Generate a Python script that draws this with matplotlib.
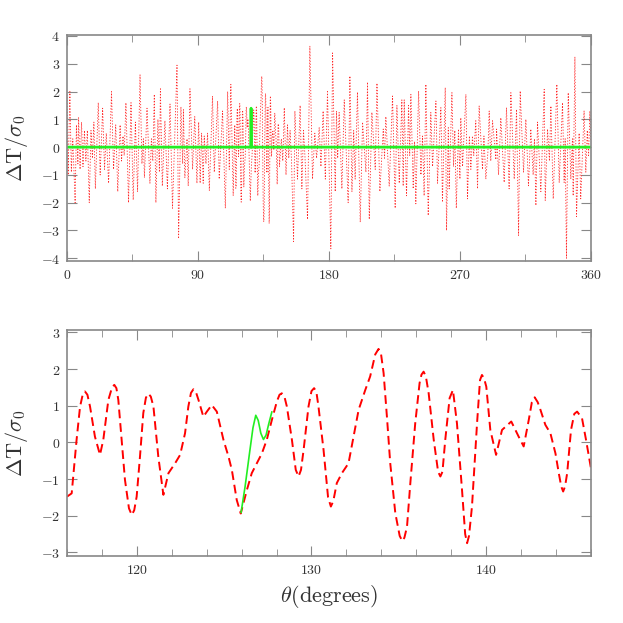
import matplotlib
matplotlib.use('Agg')
import matplotlib.pyplot as plt
from matplotlib.ticker import MultipleLocator, FuncFormatter

plt.rcParams['mathtext.fontset'] = 'cm'

# zoomed window (bottom panel): red curve, theta in degrees, dT/sigma0
theta_zoom = [116.0, 116.27, 116.55, 116.75, 116.9, 117.03, 117.17, 117.32, 117.6, 117.89, 118.08, 118.37,
              118.58, 118.71, 118.83, 118.94, 119.13, 119.32, 119.55, 119.71, 119.85, 119.99, 120.18, 120.37,
              120.52, 120.66, 120.8, 120.95,
              121.23, 121.52, 121.81, 122.19, 122.48, 122.76, 122.95, 123.1, 123.24, 123.38, 123.53, 123.81,
              124.01, 124.29, 124.58, 124.96, 125.25, 125.44, 125.72, 125.95, 126.3, 126.58,
              126.87, 127.16, 127.44, 127.73, 128.02, 128.17, 128.3, 128.45, 128.59, 128.88, 129.1, 129.26,
              129.4, 129.55,
              129.83, 130.0, 130.15, 130.28, 130.4, 130.69, 130.95, 131.11, 131.25, 131.45, 131.74, 132.12,
              132.41, 132.7,
              133.08, 133.36, 133.65, 133.84, 133.98, 134.13, 134.32, 134.51, 134.8, 135.05, 135.2, 135.32,
              135.47, 135.66,
              135.94, 136.19, 136.3, 136.42, 136.55, 136.71, 137.0, 137.25, 137.38, 137.5, 137.66, 137.91,
              138.1, 138.33,
              138.62, 138.8, 138.91, 139.02, 139.19, 139.48, 139.65, 139.76, 139.88, 140.01, 140.24, 140.57,
              140.91, 141.44,
              141.86, 142.15, 142.44, 142.62, 142.78, 142.95, 143.11, 143.39, 143.68, 143.97, 144.16, 144.3,
              144.41, 144.52,
              144.64, 144.86, 145.05, 145.21, 145.49, 145.72, 146.0]
dT_zoom = [-1.48, -1.39, 0.07, 0.98, 1.3, 1.39, 1.3, 0.98, 0.16, -0.34, 0.07, 1.16,
           1.5, 1.57, 1.48, 1.16, 0.07, -1.02, -1.8, -1.98, -1.85, -1.48, -0.39, 0.8,
           1.22, 1.33, 1.25, 0.98,
           -0.39, -1.43, -0.84, -0.57, -0.34, 0.25, 0.98, 1.35, 1.45, 1.38, 1.16, 0.7,
           0.84, 1.02, 0.84, 0.07, -0.39, -0.75, -1.57, -1.94, -1.3, -0.84,
           -0.57, -0.3, 0.07, 0.61, 1.12, 1.3, 1.34, 1.25, 0.98, 0.07, -0.75, -0.93,
           -0.75, -0.2,
           0.98, 1.4, 1.48, 1.38, 0.98, -0.2, -1.5, -1.75, -1.6, -1.11, -0.84, -0.57,
           0.16, 0.89,
           1.43, 1.8, 2.4, 2.55, 2.42, 1.89, 0.7, -0.57, -1.93, -2.55, -2.69, -2.6,
           -2.3, -1.11,
           0.52, 1.62, 1.85, 1.93, 1.8, 1.34, 0.07, -0.8, -0.93, -0.8, 0.07, 1.21,
           1.43, 0.52,
           -1.3, -2.5, -2.75, -2.55, -1.75, 0.52, 1.7, 1.84, 1.75, 1.52, 0.34, -0.34,
           0.34, 0.57,
           0.16, -0.11, 0.61, 1.1, 1.23, 1.1, 0.89, 0.48, 0.25, -0.3, -0.84, -1.2,
           -1.34, -1.2,
           -0.84, 0.34, 0.78, 0.84, 0.66, 0.07, -0.7]

# green curve in the zoomed window
theta_fit = [125.97, 126.2, 126.45, 126.65, 126.81, 126.95, 127.1, 127.25, 127.4, 127.55, 127.73]
dT_fit = [-1.91, -1.2, -0.3, 0.4, 0.74, 0.6, 0.25, 0.08, 0.2, 0.5, 0.83]

# full circle (top panel), outside the zoomed window
theta_lo = [0.0, 0.8, 2.0, 3.0, 4.0, 5.6, 6.5, 7.5, 8.0, 9.0, 10.0, 11.0, 12.0, 13.0, 14.0,
            15.3, 16.5, 17.5, 18.5, 19.5, 21.5, 22.8, 24.5, 25.8, 27.0, 28.6, 30.6, 32.0,
            33.5, 34.9, 36.5, 37.5, 38.5, 39.3, 40.5, 42.3, 44.0, 45.5, 47.0, 48.5, 50.2,
            51.5, 52.5, 53.2, 55.0, 57.0, 58.0, 59.0, 60.0, 61.1, 62.5, 63.5, 64.2, 65.5,
            67.3, 69.0, 70.8, 72.5, 75.6, 76.7, 78.3, 79.5, 80.0, 81.0, 82.5, 83.3, 84.5,
            86.3, 87.8, 89.3, 90.5, 91.5, 92.5, 93.6, 94.3, 95.5, 96.6, 97.8, 100.0, 101.2,
            103.5, 104.6, 106.9, 108.8, 110.4, 111.5, 112.6, 114.2, 115.3]
dT_lo = [1.9, -1.0, 2.0, -0.9, 0.3, -2.0, 0.8, -0.6, 1.06, -0.8, 0.9, -0.7, 0.6, -0.5, 0.6,
         -2.0, 0.6, -0.4, 0.9, -1.5, 1.6, -1.0, 1.4, -0.8, 0.5, -1.3, 2.0, -0.8,
         0.8, -1.6, 0.8, -0.5, 0.4, -0.3, 1.6, -2.0, 1.6, -1.9, 0.9, -1.6, 2.6,
         -0.6, 0.3, -1.1, 1.4, -1.3, 0.3, -0.5, 1.9, -2.0, 1.0, -0.9, 2.1, -1.4,
         0.95, -1.5, 1.55, -2.2, 2.95, -3.3, 1.45, -0.6, 1.35, -1.1, 0.3, -1.4, 2.1,
         -0.8, 1.1, -1.3, 0.9, -1.3, 0.5, -1.3, 0.4, -0.6, 0.5, -1.56, 1.84, -0.9,
         1.66, -1.15, 1.3, -2.2, 2.0, -0.8, 2.26, -1.74, 0.8]
theta_hi = [147.3, 148.3, 149.3, 150.5, 151.5, 152.4, 153.3, 154.3, 155.7, 156.6, 158.4,
            160.2, 161.4, 162.5, 163.5, 165.3, 166.9, 168.7, 170.3, 171.5, 173.3, 174.5,
            176.0, 177.5, 179.0, 181.3, 182.5, 184.3, 185.2, 186.0, 187.0, 188.9, 190.5,
            193.2, 194.4, 195.8, 197.0, 198.0, 199.6, 201.5, 203.1, 205.4, 206.5, 207.7,
            209.5, 211.8, 213.0, 215.0, 217.3, 218.2, 219.1, 221.4, 223.7, 225.5, 226.7,
            228.3, 230.1, 231.0, 231.7, 233.3, 234.7, 235.5, 236.3, 237.9, 238.8, 239.7,
            241.6, 243.2, 244.3, 245.4, 246.6, 248.2, 250.0, 251.2, 253.5, 254.6, 256.9,
            258.0, 259.9, 260.8, 262.0, 262.6, 264.5, 265.6, 266.5, 267.5, 269.0, 270.0,
            270.6, 271.8, 274.1, 275.2, 276.5, 277.5, 278.6, 279.5, 280.9, 282.1, 283.2,
            285.5, 286.5, 287.8, 289.2, 290.1, 291.2, 292.4, 294.7, 295.2, 296.5, 298.1,
            300.4, 302.0, 303.8, 305.0, 307.3, 308.9, 310.3, 311.4, 313.7, 315.3, 317.1,
            318.7, 320.3, 321.2, 322.2, 323.3, 325.6, 327.9, 328.6, 330.2, 331.5, 332.5,
            334.1, 336.6, 338.2, 340.5, 341.6, 342.3, 343.2, 344.4, 346.2, 347.3, 347.8,
            349.0, 350.1, 351.9, 353.0, 355.3, 356.5, 357.5, 358.4, 359.3, 360.0]
dT_hi = [0.3, -0.5, 1.42, -1.0, 0.8, -0.4, 0.6, -0.5, -3.4, 1.3, -1.15,
         1.5, -1.5, 0.6, -0.3, -2.6, 3.63, -1.15, 0.5, -0.4, 0.7, -0.7,
         1.3, -1.15, 2.0, -3.66, 3.39, -1.6, 1.3, -0.4, 1.25, -1.5, 1.7,
         -2.0, 2.56, -1.6, 0.6, -1.15, 1.98, -2.7, 0.9, -0.9, 2.34, -2.6,
         1.25, -0.8, 2.3, -1.6, 0.65, -0.4, 1.1, -1.4, 1.84, -2.2, 1.5,
         -1.3, 1.7, -1.4, 1.7, -1.75, 1.5, -0.3, 1.9, -1.5, 0.2, -2.04,
         2.02, -1.0, 0.4, -1.75, 2.26, -2.46, 1.25, -0.7, 1.66, -1.3, 1.42,
         -1.98, 2.14, -3.0, 0.7, -1.5, 1.96, -0.7, 0.6, -2.2, 0.65, -1.15,
         1.06, -0.7, 1.9, -1.86, 0.4, -0.8, 0.4, -0.3, 0.95, -1.5, 1.48,
         -0.8, 0.4, -1.15, -0.2, 1.3, -0.5, 0.95, -0.45, 0.65, -1.0, 1.06,
         -1.27, 1.42, -1.5, 1.96, -1.15, 1.36, -3.18, 2.02, -0.9, 1.0, -1.39,
         0.65, -1.0, 0.3, -2.1, 0.9, -1.6, 2.08, -1.92, 0.65, -0.5, 1.48,
         -1.86, 2.26, -1.27, 1.6, -1.27, 0.3, -4.0, 1.96, -1.15, 0.3, -1.75,
         3.25, -2.5, 0.5, -1.86, 1.3, -0.9, 0.6, -0.3, 1.3, 0.2]

# green trace in the top panel (flat with one spike)
theta_spike = [0.0, 126.4, 126.5, 126.6, 360.0]
dT_spike = [0.0, 0.0, 1.4, 0.0, 0.0]

theta_top = theta_lo + theta_zoom + theta_hi
dT_top = dT_lo + dT_zoom + dT_hi

red = '#ff0000'
green = '#22ee22'
grey = '#888888'
txt = '#333333'

fig = plt.figure(figsize=(6.23, 6.23), dpi=100)
ax1 = fig.add_axes([0.1075, 0.581, 0.841, 0.363])
ax2 = fig.add_axes([0.1075, 0.1075, 0.841, 0.363])

ax1.plot(theta_top, dT_top, color=red, lw=0.6, alpha=0.85, linestyle=(0, (1.5, 2.0)))
ax1.plot(theta_spike, dT_spike, color=green, lw=2.0)
ax1.set_xlim(0, 360)
ax1.set_ylim(-4.1, 4.04)
ax1.xaxis.set_major_locator(MultipleLocator(90))
ax1.xaxis.set_minor_locator(MultipleLocator(45))
ax1.yaxis.set_major_locator(MultipleLocator(1))

ax2.plot(theta_zoom, dT_zoom, color=red, lw=1.4, linestyle=(0, (4.5, 2.5)))
ax2.plot(theta_fit, dT_fit, color=green, lw=1.2)
ax2.set_xlim(116, 146)
ax2.set_ylim(-3.1, 3.07)
ax2.xaxis.set_major_locator(MultipleLocator(10))
ax2.xaxis.set_minor_locator(MultipleLocator(2))
ax2.yaxis.set_major_locator(MultipleLocator(1))
ax2.set_xlabel(r'$\theta(\mathrm{degrees})$', fontsize=16, color=txt, labelpad=4)

fmt = FuncFormatter(lambda v, p: r'$%d$' % round(v))
for ax in (ax1, ax2):
    ax.set_ylabel(r'$\Delta\mathrm{T}/\sigma_0$', fontsize=16, color=txt, labelpad=8)
    ax.xaxis.set_major_formatter(fmt)
    ax.yaxis.set_major_formatter(fmt)
    ax.tick_params(which='both', direction='in', top=True, right=True,
                   color=grey, labelcolor=txt, labelsize=10, pad=5)
    ax.tick_params(which='major', length=7)
    ax.tick_params(which='minor', length=5)
    for s in ax.spines.values():
        s.set_color(grey)
        s.set_linewidth(1.2)

fig.savefig('out.png', dpi=100)
